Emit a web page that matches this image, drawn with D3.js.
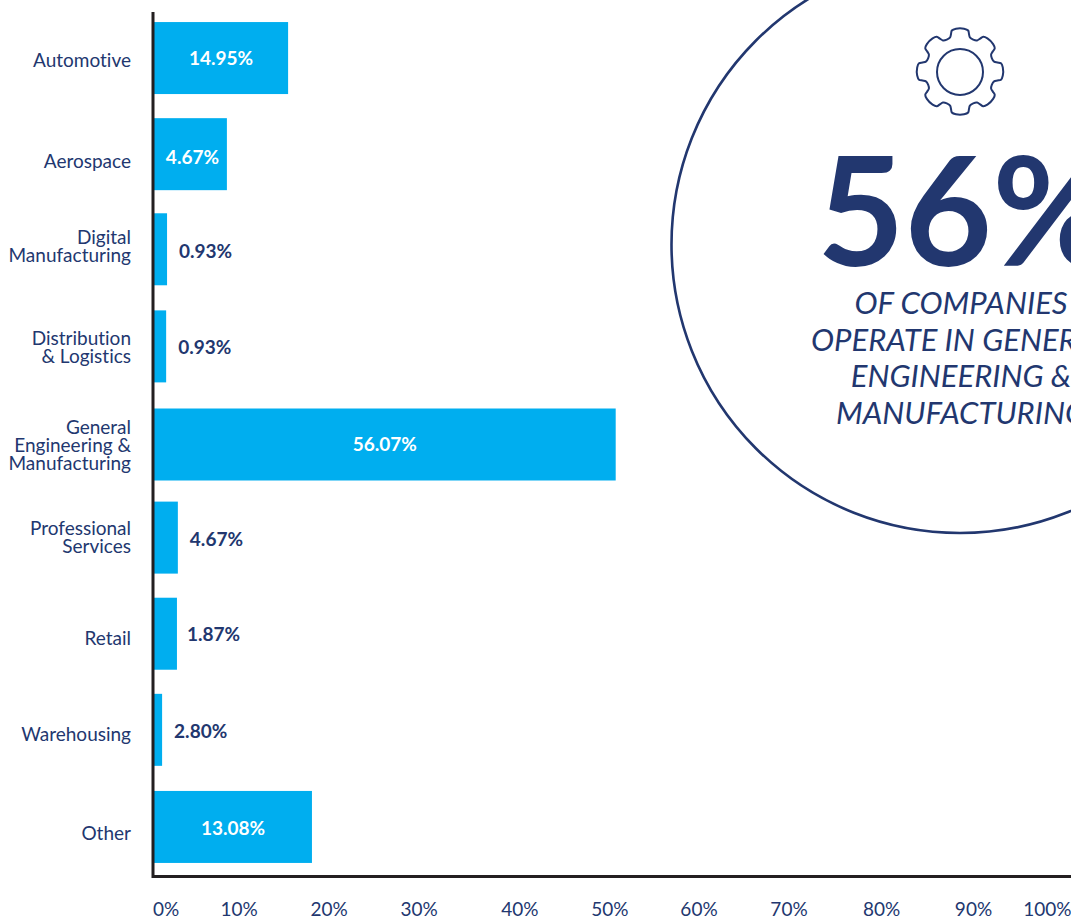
<!DOCTYPE html>
<html><head><meta charset="utf-8">
<script src="https://cdn.jsdelivr.net/npm/d3@7/dist/d3.min.js"></script>
<style>
html,body{margin:0;padding:0;background:#fff;overflow:hidden}
text{font-family:Lato,sans-serif;font-variant-ligatures:none}
</style></head><body>
<script>
const categories = [["Automotive"],["Aerospace"],["Digital","Manufacturing"],["Distribution","& Logistics"],["General","Engineering &","Manufacturing"],["Professional","Services"],["Retail"],["Warehousing"],["Other"]];
const valueLabels = ["14.95%","4.67%","0.93%","0.93%","56.07%","4.67%","1.87%","2.80%","13.08%"];
// drawn bar lengths as read against the x axis (the source's bars do not match their printed labels)
const barLengths = [14.9,8.1,1.45,1.35,51.3,2.65,2.55,0.9,17.55];
const labelInside = [true,true,false,false,true,false,false,false,true];
const tickLabels = ["0%","10%","20%","30%","40%","50%","60%","70%","80%","90%","100%"];
const tickPositions = [1.3,9.4,19.4,29.4,40.6,50.6,60.5,70.5,80.8,91,99.2];
const catLabelShift = [2,7,-4,1,3,-1,4,4,6];
const valueLabelShift = [0,3,1,1,2,1,0,1,1];
const valueLabelNudge = [-1,1,0,0,-1,0,-2,0,-1];
const barShift = [0,0,-1,0,2,-1,-1,-1,0];

const W=1071,H=920,ink="#22376f",barColor="#00aeef",axisInk="#231f20";
const svg=d3.select("body").append("svg").attr("width",W).attr("height",H).style("display","block");
const x=d3.scaleLinear().domain([0,100]).range([154,1054]);
const y=d3.scaleBand().domain(d3.range(categories.length)).range([10,875]).paddingInner(0.25).paddingOuter(0.125);
const bh=72;
const cy=i=>y(i)+y.bandwidth()/2;

// callout circle
const callout=svg.append("g");
callout.append("circle").attr("cx",960).attr("cy",244.5).attr("r",288.5).attr("fill","none").attr("stroke",ink).attr("stroke-width",2.6);
// gear
const gx=960,gy=71.5,teeth=8,pts=[];
const rOut=43;
for(let t=0;t<teeth;t++){
  const a=-Math.PI/2+t*2*Math.PI/teeth, s=2*Math.PI/teeth;
  [[-0.5,34.5],[-0.36,35.5],[-0.3,38.5],[-0.25,41.8],[-0.12,rOut],[0.12,rOut],[0.25,41.8],[0.3,38.5],[0.36,35.5]].forEach(([o,r])=>{
    const b=a+o*s; pts.push([gx+r*Math.cos(b),gy+r*Math.sin(b)]);
  });
}
callout.append("path").attr("d",d3.line().curve(d3.curveCatmullRomClosed.alpha(0.5))(pts)).attr("fill","none").attr("stroke",ink).attr("stroke-width",2);
callout.append("circle").attr("cx",gx).attr("cy",72).attr("r",23).attr("fill","none").attr("stroke",ink).attr("stroke-width",2);
callout.append("text").attr("x",817).attr("y",266).attr("font-size",151).attr("font-weight",700).attr("fill",ink).text("56%");
const sub=["OF COMPANIES","OPERATE IN GENERAL","ENGINEERING &","MANUFACTURING"];
callout.selectAll("text.sub").data(sub).join("text").attr("class","sub")
 .attr("x",961).attr("y",(d,i)=>314+i*36.5).attr("text-anchor","middle").attr("font-size",31).attr("font-style","italic").attr("fill",ink).text(d=>d);

// bars
const by=i=>cy(i)-bh/2+barShift[i];
svg.selectAll("rect.bar").data(barLengths).join("rect").attr("class","bar")
 .attr("x",x(0)).attr("y",(d,i)=>by(i)).attr("width",d=>x(d)-x(0)).attr("height",bh).attr("fill",barColor);

// value labels
svg.selectAll("text.val").data(valueLabels).join("text").attr("class","val")
 .attr("x",(d,i)=>(labelInside[i]?(x(0)+x(barLengths[i]))/2+1:x(barLengths[i])+12)+valueLabelNudge[i])
 .attr("y",(d,i)=>cy(i)+valueLabelShift[i]).attr("dy","0.35em")
 .attr("text-anchor",(d,i)=>labelInside[i]?"middle":"start")
 .attr("font-size",19).attr("font-weight",700)
 .attr("fill",(d,i)=>labelInside[i]?"#fff":ink).text(d=>d);

// category labels
const cat=svg.selectAll("text.cat").data(categories).join("text").attr("class","cat")
 .attr("text-anchor","end").attr("font-size",19).attr("fill",ink);
cat.each(function(lines,i){
  const mid=cy(i)+catLabelShift[i];
  d3.select(this).selectAll("tspan").data(lines).join("tspan").attr("x",131)
   .attr("y",(l,j)=>mid+(j-(lines.length-1)/2)*18).attr("dy","0.35em").text(l=>l);
});

// axes
const xAxis=d3.axisBottom(x).tickValues(tickPositions).tickFormat((d,i)=>tickLabels[i]).tickSize(0).tickPadding(27);
const gA=svg.append("g").attr("transform","translate(0,876)").call(xAxis);
gA.select(".domain").remove();
gA.selectAll("text").attr("font-size",19).attr("font-family","Lato").attr("fill",ink);
svg.append("path").attr("d","M153 12V876.5H1071").attr("fill","none").attr("stroke",axisInk).attr("stroke-width",3);
</script></body></html>
